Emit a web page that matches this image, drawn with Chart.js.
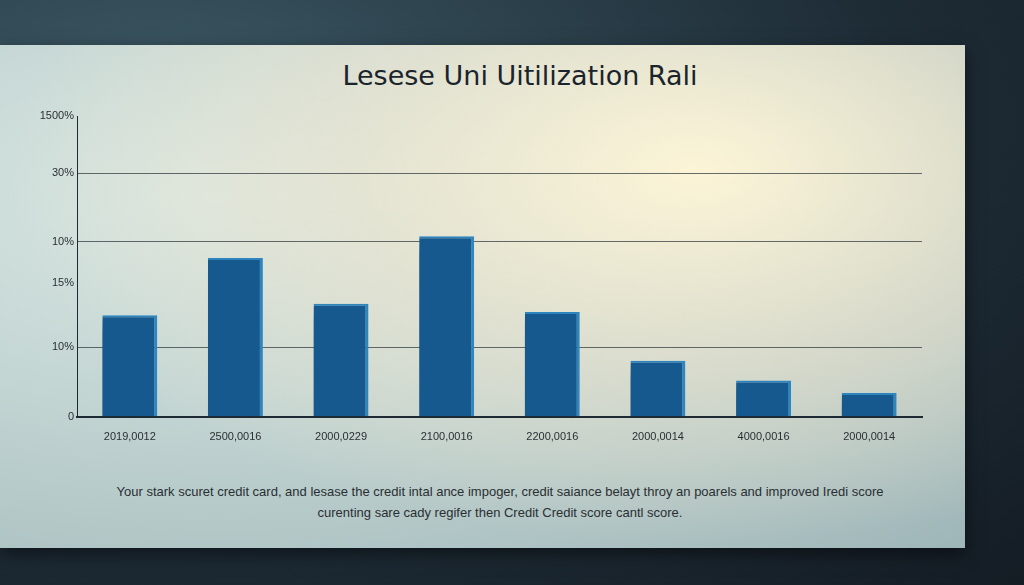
<!DOCTYPE html>
<html>
<head>
<meta charset="utf-8">
<script src="https://cdn.jsdelivr.net/npm/chart.js@4.4.0/dist/chart.umd.min.js"></script>
<style>
  html, body { margin: 0; width: 1024px; height: 585px; overflow: hidden; }
  body {
    background: radial-gradient(ellipse at 15% 20%, #3d5a66 0%, #1e2c36 60%, #141c24 100%);
    font-family: "Liberation Sans", Arial, sans-serif;
  }
  #poster {
    position: absolute; left: 0; top: 45px; width: 965px; height: 503px;
    background:
      radial-gradient(ellipse at 72% 25%, rgba(255,246,215,0.95) 0%, rgba(240,230,205,0.6) 35%, rgba(220,215,200,0) 70%),
      radial-gradient(ellipse at 22% 30%, #d8e6e2 0%, #c4d6d4 40%, #9fb6b8 100%);
    box-shadow: 0 6px 16px rgba(0,0,0,0.5);
  }
  #title {
    position: absolute; left: 0; width: 1040px; top: 60px; text-align: center;
    font-size: 27px; font-family: "DejaVu Sans", sans-serif; color: #1a242c;
  }
  .foot {
    position: absolute; left: 0; width: 1000px; text-align: center;
    font-size: 13px; color: #2a2f33;
  }
  #wrap { position: absolute; left: 0; top: 100px; width: 960px; height: 350px; }
</style>
</head>
<body>
<div id="poster"></div>
<div id="title">Lesese Uni Uitilization Rali</div>
<div class="foot" style="top:484px">Your stark scuret credit card, and lesase the credit intal ance impoger, credit saiance belayt throy an poarels and improved Iredi score</div>
<div class="foot" style="top:505px">curenting sare cady regifer then Credit Credit score cantl score.</div>
<div id="wrap"><canvas id="chart" width="960" height="350"></canvas></div>
<script>
// categories and bar heights (in axis units)
const categories = ["2019,0012", "2500,0016", "2000,0229", "2100,0016", "2200,0016", "2000,0014", "4000,0016", "2000,0014"];
const barValues = [98, 153, 109, 174, 101, 54, 35, 23];

// tick positions and the labels printed at them
const tickValues = [0, 67, 129, 169, 235, 290];
const tickLabels = ["0", "10%", "15%", "10%", "30%", "1500%"];
const gridTicks = [67, 169, 235];

const shadowPlugin = {
  id: "barShadow",
  beforeDatasetsDraw(chart) {
    const ctx = chart.ctx;
    ctx.save();
    ctx.shadowColor = "rgba(10,40,70,0.45)";
    ctx.shadowBlur = 12;
    ctx.shadowOffsetX = -14;
    ctx.shadowOffsetY = 10;
  },
  afterDatasetsDraw(chart) {
    chart.ctx.restore();
  }
};

new Chart(document.getElementById("chart").getContext("2d"), {
  type: "bar",
  data: {
    labels: categories,
    datasets: [{
      data: barValues,
      backgroundColor: "#15598f",
      borderColor: "#2f86bf",
      borderWidth: { right: 3, top: 2 },
      barPercentage: 0.52,
      categoryPercentage: 1
    }]
  },
  options: {
    responsive: false,
    animation: false,
    maintainAspectRatio: false,
    layout: { padding: { top: 16, right: 38 } },
    plugins: { legend: { display: false }, tooltip: { enabled: false } },
    scales: {
      x: {
        grid: { display: false },
        border: { color: "#1e2a33", width: 2 },
        ticks: { color: "#2a2f33", font: { size: 11 }, maxRotation: 0, autoSkip: false, padding: 6 }
      },
      y: {
        min: 0, max: 290,
        afterFit(scale) { scale.width = 77; },
        afterBuildTicks(scale) { scale.ticks = tickValues.map(v => ({ value: v })); },
        ticks: {
          color: "#2a2f33", font: { size: 11 },
          callback(v) { const i = tickValues.indexOf(v); return i >= 0 ? tickLabels[i] : ""; }
        },
        grid: {
          drawTicks: false,
          color(c) { return gridTicks.includes(c.tick.value) ? "rgba(40,50,55,0.7)" : "rgba(0,0,0,0)"; }
        },
        border: { color: "#1e2a33", width: 1 }
      }
    }
  },
  plugins: [shadowPlugin]
});
</script>
</body>
</html>
